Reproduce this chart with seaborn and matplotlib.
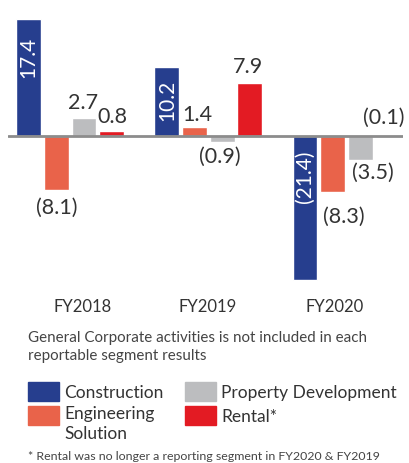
import numpy as np
import pandas as pd
import seaborn as sns
from matplotlib import pyplot as plt
from matplotlib.patches import Rectangle

sns.set_style('white')
plt.rcParams['font.family'] = ['Lato', 'DejaVu Sans']

years = ['FY2018', 'FY2019', 'FY2020']
segments = ['Construction', 'Engineering Solution', 'Property Development', 'Rental*']
construction = [17.4, 10.2, -21.4]
engineering = [-8.1, 1.4, -8.3]
property_dev = [2.7, -0.9, -3.5]
rental = [0.8, 7.9, -0.1]
colors = ['#263e8e', '#e9634a', '#bcbdbf', '#e31b23']

df = pd.DataFrame({
    'year': np.repeat(years, 4),
    'segment': segments * 3,
    'value': [v for trio in zip(construction, engineering, property_dev, rental) for v in trio],
})

fig = plt.figure(figsize=(4.09, 4.64), dpi=100)
ax = fig.add_axes([8 / 409, 174 / 464, 395 / 409, 285 / 464])
sns.barplot(data=df, x='year', y='value', hue='segment', hue_order=segments,
            palette=colors, width=0.8, gap=0.1, legend=False, ax=ax,
            saturation=1, errorbar=None)
ax.set_xlim(-0.45, 2.41)
ax.set_ylim(-22.77, 19.64)
ax.axhline(0, color='#8c8c8c', lw=2, zorder=3)
ax.set_xlabel('')
ax.set_ylabel('')
ax.set_yticks([])
ax.set_xticks([])
sns.despine(ax=ax, left=True, bottom=True)

# value labels: (dx from bar centre, y centre, rotation) per bar
label_pos = {
    (0, 0): (0.0, 11.9, 90), (0, 1): (0.0, -10.6, 0), (0, 2): (-0.006, 5.1, 0), (0, 3): (0.004, 3.0, 0),
    (1, 0): (0.0, 5.5, 90), (1, 1): (0.02, 3.3, 0), (1, 2): (-0.013, -3.0, 0), (1, 3): (-0.01, 10.4, 0),
    (2, 0): (0.0, -5.95, 90), (2, 1): (0.08, -11.9, 0), (2, 2): (0.095, -5.4, 0), (2, 3): (-0.032, 2.85, 0),
}
offsets = [-0.3, -0.1, 0.1, 0.3]
series = [construction, engineering, property_dev, rental]
for (g, h), (dx, y, rot) in label_pos.items():
    v = series[h][g]
    txt = f'{v:.1f}' if v >= 0 else f'({-v:.1f})'
    col = 'white' if rot == 90 else '#333333'
    ax.text(g + offsets[h] + dx, y, txt, rotation=rot, ha='center', va='center',
            fontsize=15.5 if rot == 0 else 15, color=col, zorder=4)

for i, y in enumerate(years):
    fig.text((70 + 138 * i + (13 if i == 0 else (0 if i == 1 else -11))) / 409, 1 - 307 / 464, y,
             ha='center', va='center', fontsize=12, color='#333333')

fig.text(28 / 409, 1 - 338 / 464, 'General Corporate activities is not included in each',
         ha='left', va='center', fontsize=10.9, color='#444444')
fig.text(28 / 409, 1 - 356 / 464, 'reportable segment results',
         ha='left', va='center', fontsize=10.9, color='#444444')

legend_items = [(28, 383, segments[0]), (28, 407, 'Engineering\nSolution'),
                (185, 383, segments[2]), (185, 407, segments[3])]
for (x, y, lab), c in zip(legend_items, colors):
    fig.add_artist(Rectangle((x / 409, 1 - (y + 19) / 464), 31 / 409, 19 / 464,
                             transform=fig.transFigure, color=c))
    fig.text((x + 36) / 409, 1 - (y + 10) / 464 + (0.024 if '\n' in lab else 0), lab,
             ha='left', va='top' if '\n' in lab else 'center',
             fontsize=12.5, color='#333333', linespacing=1.3)

fig.text(28 / 409, 1 - 457 / 464, '* Rental was no longer a reporting segment in FY2020 & FY2019',
         ha='left', va='center', fontsize=8.9, color='#444444')

fig.savefig('out.png', dpi=100)
